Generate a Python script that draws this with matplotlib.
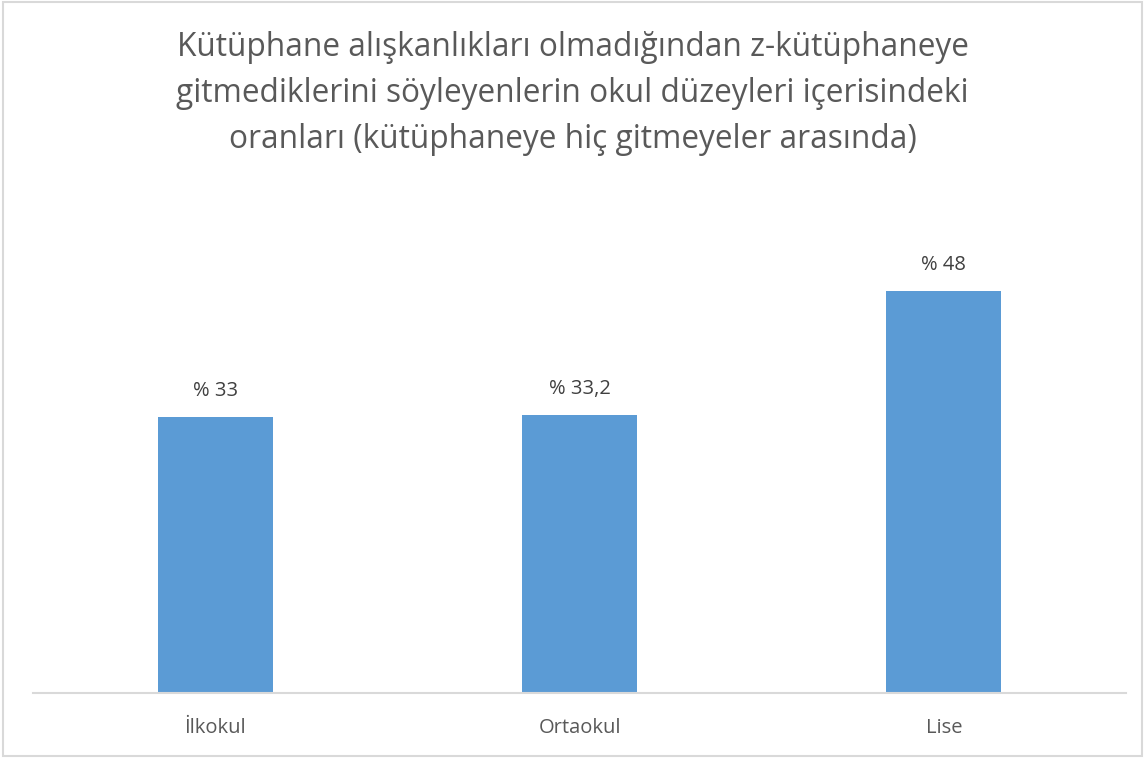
import matplotlib
matplotlib.use("Agg")
import matplotlib.pyplot as plt
from matplotlib.patches import Rectangle

categories = ["İlkokul", "Ortaokul", "Lise"]
values = [33, 33.2, 48]
labels = ["% 33", "% 33,2", "% 48"]
title = ("Kütüphane alışkanlıkları olmadığından z-kütüphaneye\n"
         "gitmediklerini söyleyenlerin okul düzeyleri içerisindeki\n"
         "oranları (kütüphaneye hiç gitmeyeler arasında)")

W, H = 1145, 758
plt.rcParams['font.family'] = ['Open Sans', 'DejaVu Sans']
fig = plt.figure(figsize=(W / 100, H / 100), dpi=100)
fig.patch.set_facecolor("white")
fig.patches.append(Rectangle((3 / W, 2 / H), (W - 6) / W, (H - 4) / H,
                             transform=fig.transFigure, fill=False,
                             edgecolor="#D9D9D9", linewidth=1.5))

left, right, bottom, top = 33, 1126, 693, 191
ax = fig.add_axes([left / W, (H - bottom) / H, (right - left) / W, (bottom - top) / H])
x = range(len(categories))
ax.bar(x, values, width=0.315, color="#5B9BD5", zorder=2)
ax.set_xlim(-0.5, 2.5)
ax.set_ylim(0, 60)
for xi, v, lab in zip(x, values, labels):
    ax.annotate(lab, (xi, v), xytext=(0, 26), textcoords="offset pixels",
                ha="center", va="center", fontsize=14.5, color="#404040")
ax.set_xticks(list(x))
ax.set_xticklabels(categories, fontsize=14.5, color="#595959")
ax.tick_params(axis="x", length=0, pad=18)
ax.set_yticks([])
for s in ["left", "right", "top"]:
    ax.spines[s].set_visible(False)
ax.spines["bottom"].set_color("#D9D9D9")
ax.spines["bottom"].set_linewidth(1.5)
ax.patch.set_alpha(0)

fig.text(0.5, (H - 93) / H, title, ha="center", va="center", fontsize=22.8,
         color="#595959", linespacing=1.52)

fig.savefig("out.png", dpi=100)
